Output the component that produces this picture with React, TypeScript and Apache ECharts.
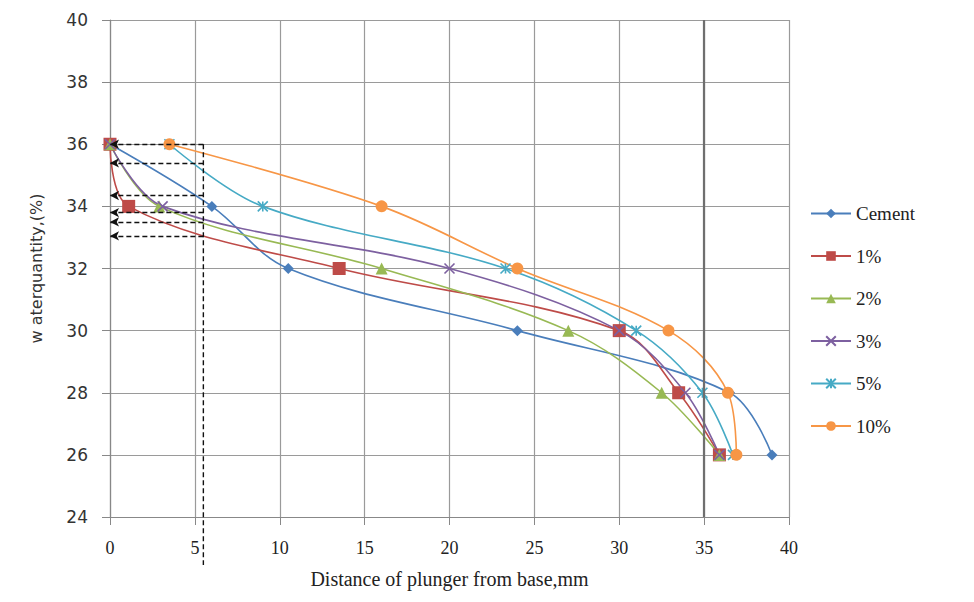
import React, { useEffect, useRef } from "react";
import * as echarts from "echarts";

const seriesNames = ["Cement", "1%", "2%", "3%", "5%", "10%"];
const seriesColors = ["#4A7EBB", "#BE4B48", "#98B954", "#7D60A0", "#46AAC5", "#F79646"];

const cementData = [[0, 36], [6, 34], [10.5, 32], [24, 30], [36.5, 28], [39, 26]];
const pct1Data = [[0, 36], [1.1, 34], [13.5, 32], [30, 30], [33.5, 28], [35.9, 26]];
const pct2Data = [[0, 36], [2.9, 34], [16, 32], [27, 30], [32.5, 28], [35.9, 26]];
const pct3Data = [[0, 36], [3.1, 34], [20, 32], [30, 30], [33.9, 28], [35.9, 26]];
const pct5Data = [[3.5, 36], [9, 34], [23.3, 32], [31, 30], [34.9, 28], [36.7, 26]];
const pct10Data = [[3.5, 36], [16, 34], [24, 32], [32.9, 30], [36.4, 28], [36.9, 26]];

const xTicks = [0, 5, 10, 15, 20, 25, 30, 35, 40];
const yTicks = [24, 26, 28, 30, 32, 34, 36, 38, 40];

// dashed read-off annotations
const dashX = 5.5;
const dashLevels = [36, 35.4, 34.35, 33.8, 33.5, 33.05];
const dashBelowPx = 48;
const markedX = 35;

const X_SYM = "path://M0,0L10,10M10,0L0,10";
const STAR_SYM = "path://M0,0L10,10M10,0L0,10M5,0L5,10";

const symbols = ["diamond", "rect", "triangle", X_SYM, STAR_SYM, "circle"];
const symbolSizes = [11, 13, 12, 10, 10, 12];
const allData = [cementData, pct1Data, pct2Data, pct3Data, pct5Data, pct10Data];

export default function App() {
  const ref = useRef<HTMLDivElement>(null);
  useEffect(() => {
    if (!ref.current) return;
    const chart = echarts.init(ref.current, undefined, { renderer: "svg" });
    const series: any[] = allData.map((d, i) => {
      const isStroke = i === 3 || i === 4;
      return {
        name: seriesNames[i],
        type: "line",
        data: d,
        smooth: 0.35,
        symbol: symbols[i],
        symbolSize: symbolSizes[i],
        showAllSymbol: true,
        lineStyle: { color: seriesColors[i], width: 1.6 },
        itemStyle: isStroke
          ? { color: seriesColors[i], borderColor: seriesColors[i], borderWidth: 1.6 }
          : { color: seriesColors[i], borderWidth: 0 },
        z: 3,
      };
    });

    const markData: any[] = [];
    dashLevels.forEach((lv) => {
      markData.push([
        { coord: [dashX, lv], symbol: "none" },
        { coord: [0, lv], symbol: "arrow" },
      ]);
    });

    series.push({
      name: "annot",
      type: "line",
      data: [],
      clip: false,
      silent: true,
      markLine: {
        silent: true,
        animation: false,
        symbolSize: [7, 9],
        label: { show: false },
        lineStyle: { color: "#111", type: [5, 3], width: 1.4 },
        data: markData,
      },
      z: 2,
    });
    series.push({
      name: "vline",
      type: "line",
      data: [],
      silent: true,
      markLine: {
        silent: true,
        animation: false,
        symbol: "none",
        label: { show: false },
        lineStyle: { color: "#6f6f6f", type: "solid", width: 2.2 },
        data: [{ xAxis: markedX }],
      },
      z: 1,
    });

    chart.setOption({
      animation: false,
      backgroundColor: "#ffffff",
      grid: { left: 102, right: 177, top: 12, bottom: 77 },
      legend: {
        data: seriesNames,
        orient: "vertical",
        left: 797,
        top: 191,
        itemWidth: 40,
        itemHeight: 12,
        itemGap: 23.5,
        textStyle: { fontFamily: "Liberation Serif", fontSize: 19, color: "#222" },
      },
      xAxis: {
        type: "value",
        min: 0,
        max: 40,
        interval: 5,
        name: "Distance of plunger from base,mm",
        nameLocation: "middle",
        nameGap: 52,
        nameTextStyle: { fontFamily: "Liberation Serif", fontSize: 20, color: "#222" },
        axisLine: { show: true, lineStyle: { color: "#888", width: 1.2 } },
        axisTick: { show: true, length: 8, lineStyle: { color: "#888" } },
        axisLabel: { margin: 22, fontFamily: "Liberation Serif", fontSize: 18, color: "#222" },
        splitLine: { show: true, lineStyle: { color: "#9a9a9a", width: 1.2 } },
      },
      yAxis: {
        type: "value",
        min: 24,
        max: 40,
        interval: 2,
        name: "w aterquantity,(%)",
        nameLocation: "middle",
        nameGap: 66,
        nameTextStyle: { fontFamily: "DejaVu Sans", fontSize: 16, color: "#333" },
        axisLine: { show: true, lineStyle: { color: "#888", width: 1.2 } },
        axisTick: { show: true, length: 8, lineStyle: { color: "#888" } },
        axisLabel: { margin: 22, fontFamily: "DejaVu Sans", fontSize: 17, color: "#333" },
        splitLine: { show: true, lineStyle: { color: "#9a9a9a", width: 1.2 } },
      },
      series,
    });

    const top = chart.convertToPixel({ gridIndex: 0 }, [dashX, dashLevels[0]]) as number[];
    const bot = chart.convertToPixel({ gridIndex: 0 }, [dashX, yTicks[0]]) as number[];
    chart.setOption({
      graphic: [
        {
          type: "line",
          silent: true,
          z: 10,
          shape: { x1: top[0], y1: top[1], x2: bot[0], y2: bot[1] + dashBelowPx },
          style: { stroke: "#111", lineWidth: 1.4, lineDash: [5, 3] },
        },
      ],
    });
    return () => chart.dispose();
  }, []);
  return <div ref={ref} style={{ width: 958, height: 586 }} />;
}
